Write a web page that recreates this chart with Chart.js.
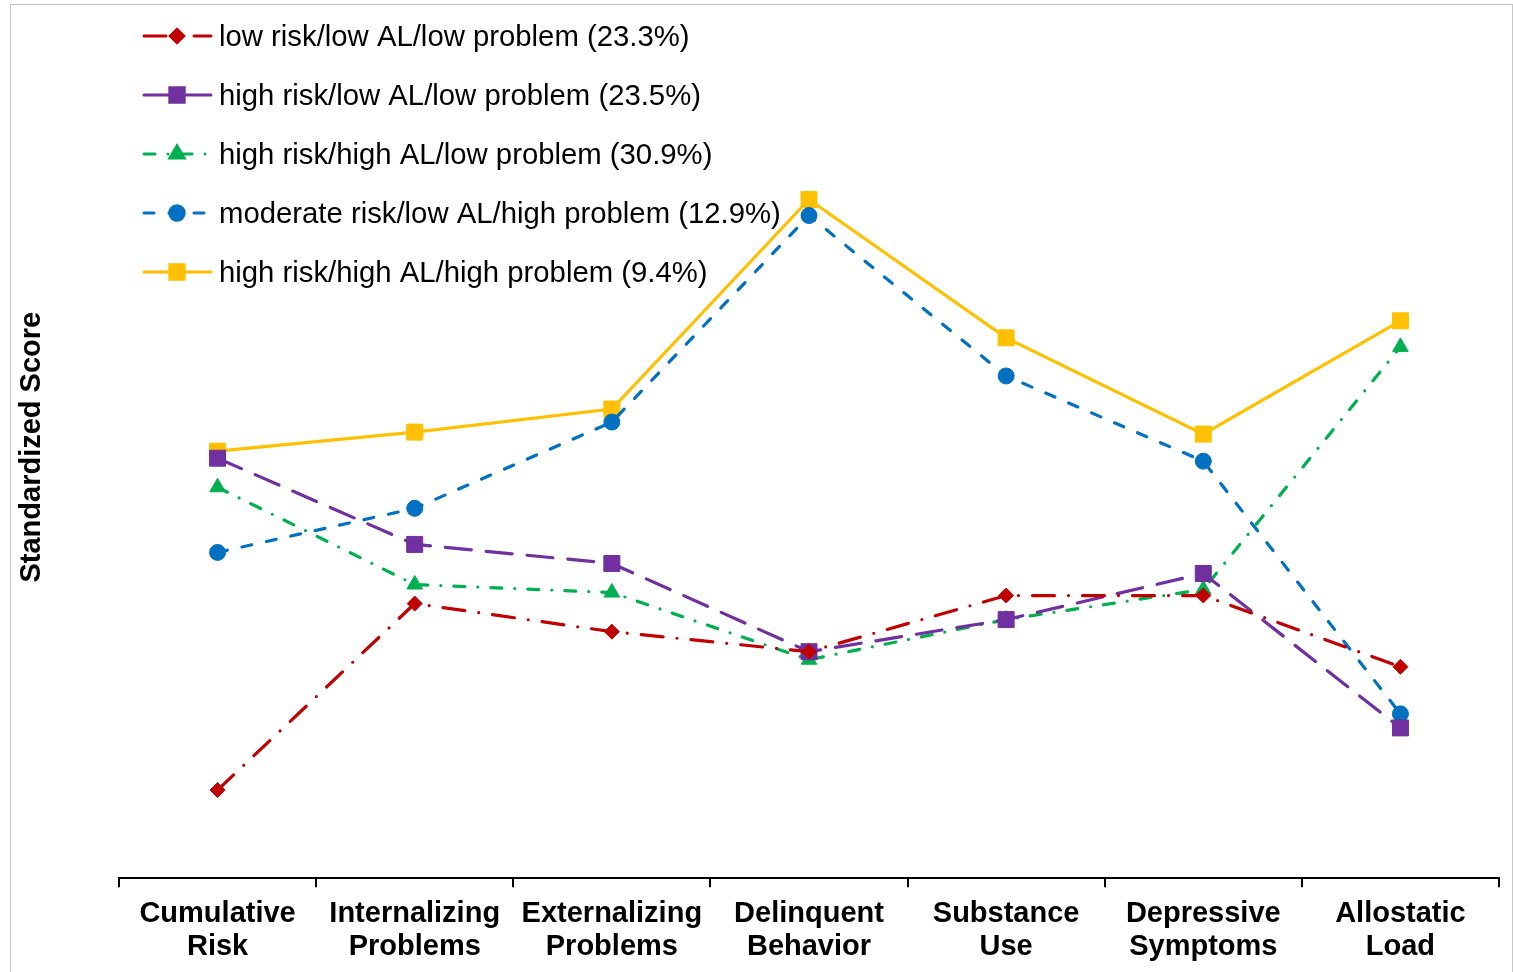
<!DOCTYPE html>
<html>
<head>
<meta charset="utf-8">
<script src="https://cdn.jsdelivr.net/npm/chart.js@4.4.1/dist/chart.umd.min.js"></script>
<style>
  body { margin:0; background:#fff; overflow:hidden; }
  #frame { position:absolute; left:10px; top:4px; width:1501px; height:1100px; border:1px solid #c6c6c6; }
  #chart { position:absolute; left:0; top:0; }
</style>
</head>
<body>
<div id="frame"></div>
<canvas id="chart" width="1513" height="972"></canvas>
<script>
const categories = [
    ['Cumulative','Risk'],
    ['Internalizing','Problems'],
    ['Externalizing','Problems'],
    ['Delinquent','Behavior'],
    ['Substance','Use'],
    ['Depressive','Symptoms'],
    ['Allostatic','Load']
];

const seriesNames = [
    'low risk/low AL/low problem (23.3%)',
    'high risk/low AL/low problem (23.5%)',
    'high risk/high AL/low problem (30.9%)',
    'moderate risk/low AL/high problem (12.9%)',
    'high risk/high AL/high problem (9.4%)'
];

const lowLowLow     = [-1.06, -0.13, -0.27, -0.37, -0.09, -0.09, -0.445];
const highLowLow    = [0.595, 0.165, 0.07, -0.37, -0.21, 0.02, -0.75];
const highHighLow   = [0.45, -0.035, -0.075, -0.41, -0.21, -0.06, 1.15];
const modLowHigh    = [0.125, 0.345, 0.775, 1.805, 1.005, 0.58, -0.68];
const highHighHigh  = [0.63, 0.725, 0.84, 1.885, 1.195, 0.715, 1.28];

const FONT = "'Liberation Sans', Arial, sans-serif";

const styles = [
    { color:'#C00000', dash:[22,14,0,14], point:'rectRot', r:7.5 },
    { color:'#7030A0', dash:[26,15], point:'rect', r:11.3 },
    { color:'#00B050', dash:[11,13,0,13], point:'triangle', r:9 },
    { color:'#0070C0', dash:[10,15], point:'circle', r:8 },
    { color:'#FFC000', dash:[], point:'rect', r:11.3 }
];
const values = [lowLowLow, highLowLow, highHighLow, modLowHigh, highHighHigh];

const datasets = values.map((v,i)=>({
    label: seriesNames[i],
    data: v,
    borderColor: styles[i].color,
    backgroundColor: styles[i].color,
    borderWidth: 3.2,
    borderDash: styles[i].dash,
    borderCapStyle: 'round',
    pointStyle: styles[i].point,
    pointRadius: styles[i].r,
    pointBorderWidth: 1,
    pointBackgroundColor: styles[i].color,
    pointBorderColor: styles[i].color,
    tension: 0,
    fill: false
}));

// legend drawn inside the plot, excel style (line + marker)
const excelLegend = {
    id: 'excelLegend',
    afterDraw(chart){
        const ctx = chart.ctx;
        chart.data.datasets.forEach((ds,i)=>{
            const y = 36 + i*59;
            ctx.save();
            ctx.strokeStyle = ds.borderColor;
            ctx.lineWidth = 3;
            ctx.lineCap = 'round';
            ctx.setLineDash(ds.borderDash);
            ctx.beginPath();
            ctx.moveTo(144, y);
            ctx.lineTo(211, y);
            ctx.stroke();
            ctx.setLineDash([]);
            ctx.fillStyle = ds.borderColor;
            Chart.helpers.drawPoint(ctx, { pointStyle: ds.pointStyle, radius: ds.pointRadius*0.9, borderWidth: 1, rotation: 0 }, 177, y);
            ctx.restore();

            ctx.save();
            ctx.fillStyle = '#000';
            ctx.font = '29.3px ' + FONT;
            ctx.textBaseline = 'middle';
            ctx.fillText(ds.label, 219, y + 2);
            ctx.restore();
        });
    }
};

new Chart(document.getElementById('chart').getContext('2d'), {
    type: 'line',
    data: { labels: categories, datasets: datasets },
    options: {
        responsive: false,
        animation: false,
        layout: { padding: { left: 11, right: 14, top: 16, bottom: 0 } },
        plugins: { legend: { display: false }, tooltip: { enabled: false } },
        scales: {
            x: {
                offset: true,
                grid: { display: true, offset: true, drawOnChartArea: false, drawTicks: true, tickLength: 9, color: '#000', lineWidth: 2 },
                border: { display: true, color: '#000', width: 2 },
                ticks: { color: '#000', padding: 10, maxRotation: 0, autoSkip: false, font: { family: FONT, size: 29, weight: 'bold', lineHeight: 1.15 } },
                afterFit: scale => { scale.height -= 2; }
            },
            y: {
                min: -1.5,
                max: 2.8,
                grid: { display: false },
                border: { display: false },
                ticks: { display: false },
                title: { display: true, text: 'Standardized Score', color: '#000', padding: 4, font: { family: FONT, size: 29, weight: 'bold' } },
                afterFit: scale => { scale.width = 108; }
            }
        }
    },
    plugins: [excelLegend]
});
</script>
</body>
</html>
